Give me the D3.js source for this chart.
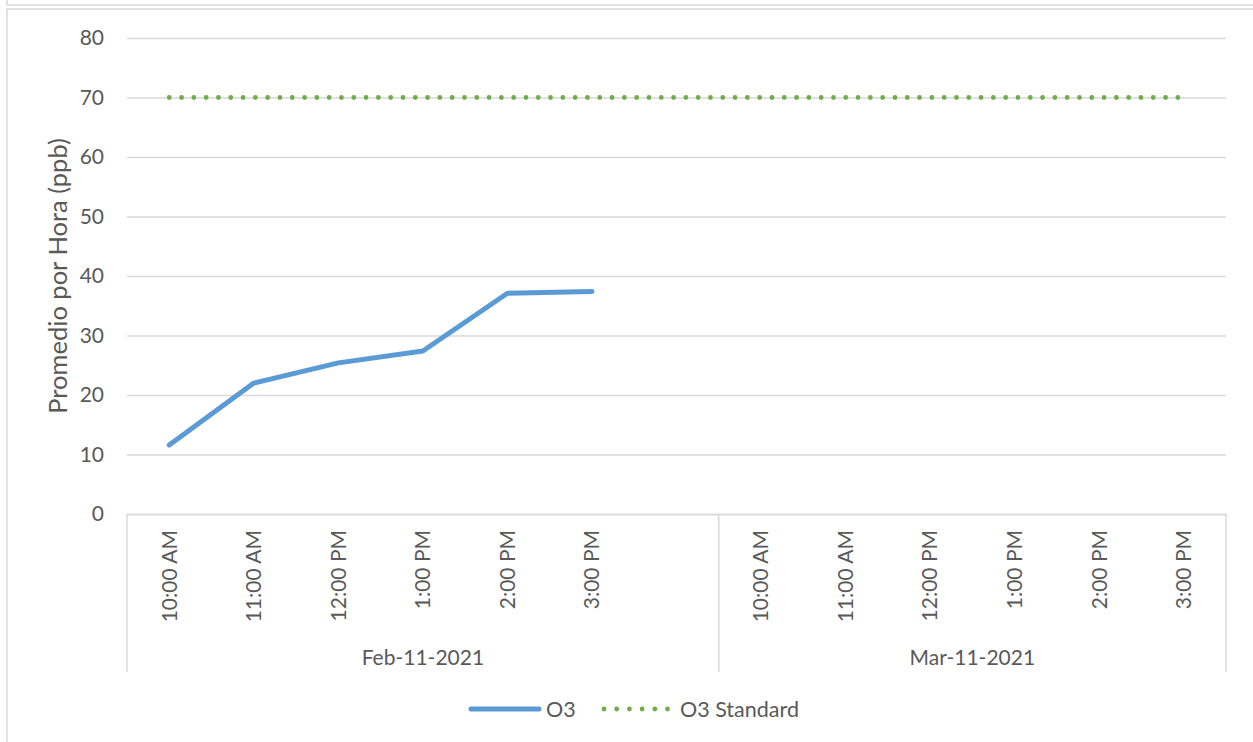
<!DOCTYPE html>
<html>
<head>
<meta charset="utf-8">
<script src="https://cdn.jsdelivr.net/npm/d3@7"></script>
<style>
  body { margin: 0; background: #fff; }
  text { font-family: Lato, "Open Sans", sans-serif; fill: #595959; }
</style>
</head>
<body>
<div id="chart"></div>
<script>
// Data
const dates = ["Feb-11-2021", "Mar-11-2021"];
const febTimes = ["10:00 AM", "11:00 AM", "12:00 PM", "1:00 PM", "2:00 PM", "3:00 PM", ""];
const marTimes = ["10:00 AM", "11:00 AM", "12:00 PM", "1:00 PM", "2:00 PM", "3:00 PM"];
const o3Values = [11.6, 22.0, 25.4, 27.4, 37.1, 37.4];   // Feb-11 only
const o3StandardValue = 70;
const yTicks = [0, 10, 20, 30, 40, 50, 60, 70, 80];
const seriesNames = ["O3", "O3 Standard"];

// Canvas / plot area
const W = 1253, H = 742;
const plot = { left: 127, right: 1226, top: 38, bottom: 514 };
const blue = "#5b9bd5", green = "#70ad47", grid = "#d9d9d9";
const labelSize = "21px";

const svg = d3.select("#chart").append("svg")
    .attr("width", W)
    .attr("height", H);

// outer frames (previous chart edge + this chart's border)
svg.append("path")
    .attr("d", "M7,0 V5 H" + W)
    .attr("fill", "none").attr("stroke", grid).attr("stroke-width", 1.5);
svg.append("rect")
    .attr("x", 7).attr("y", 9).attr("width", W + 10).attr("height", H + 10)
    .attr("fill", "none").attr("stroke", grid).attr("stroke-width", 1.5);

// build category list: one key per slot
const groups = [
    { date: dates[0], times: febTimes },
    { date: dates[1], times: marTimes }
];
const cats = [];
groups.forEach(g => g.times.forEach((t, i) => cats.push({ key: g.date + "|" + i, date: g.date, time: t })));

const x = d3.scaleBand()
    .domain(cats.map(d => d.key))
    .range([plot.left, plot.right]);
const cx = k => x(k) + x.bandwidth() / 2;

const y = d3.scaleLinear()
    .domain([0, 80])
    .range([plot.bottom, plot.top]);

// gridlines
svg.append("g")
    .attr("transform", "translate(" + plot.left + ",0)")
    .call(d3.axisLeft(y).tickValues(yTicks).tickSize(-(plot.right - plot.left)).tickFormat(""))
    .call(g => g.select(".domain").remove())
    .call(g => g.selectAll("line").attr("stroke", grid).attr("stroke-width", 1.5));

// y axis labels
svg.append("g")
    .attr("transform", "translate(" + plot.left + ",0)")
    .call(d3.axisLeft(y).tickValues(yTicks).tickSize(0).tickPadding(23))
    .call(g => g.select(".domain").remove())
    .call(g => g.selectAll("text")
        .attr("fill", "#595959")
        .style("font-size", labelSize)
        .style("font-family", "Lato, 'Open Sans', sans-serif"));

// y axis title
svg.append("text")
    .attr("transform", "translate(67," + (plot.top + plot.bottom) / 2 + ") rotate(-90)")
    .attr("text-anchor", "middle")
    .style("font-size", "25.5px")
    .text("Promedio por Hora (ppb)");

// x axis (time labels)
const timeOf = {};
cats.forEach(d => timeOf[d.key] = d.time);
svg.append("g")
    .attr("transform", "translate(0," + plot.bottom + ")")
    .call(d3.axisBottom(x).tickSize(0).tickSizeOuter(0).tickFormat(k => timeOf[k]))
    .call(g => g.select(".domain").attr("stroke", grid).attr("stroke-width", 1.5))
    .call(g => g.selectAll("text")
        .attr("transform", "rotate(-90)")
        .attr("x", -16)
        .attr("y", 0)
        .attr("dy", "0.35em")
        .attr("text-anchor", "end")
        .attr("fill", "#595959")
        .style("font-size", labelSize)
        .style("font-family", "Lato, 'Open Sans', sans-serif"));

// group separators and date labels
const bounds = [];
groups.forEach(g => {
    const keys = cats.filter(d => d.date === g.date).map(d => d.key);
    bounds.push({ date: g.date, x0: x(keys[0]), x1: x(keys[keys.length - 1]) + x.bandwidth() });
});
const sepX = [bounds[0].x0].concat(bounds.map(b => b.x1));
svg.selectAll(".sep")
    .data(sepX)
    .enter().append("line")
    .attr("class", "sep")
    .attr("x1", d => d).attr("x2", d => d)
    .attr("y1", plot.bottom).attr("y2", 672)
    .attr("stroke", grid).attr("stroke-width", 1.5);
svg.selectAll(".grp")
    .data(bounds)
    .enter().append("text")
    .attr("class", "grp")
    .attr("x", d => (d.x0 + d.x1) / 2)
    .attr("y", 665)
    .attr("text-anchor", "middle")
    .style("font-size", labelSize)
    .text(d => d.date);

// O3 standard dotted line (all slots)
const line = d3.line().x(d => cx(d.key)).y(d => y(d.v));
svg.append("path")
    .datum(cats.map(d => ({ key: d.key, v: o3StandardValue })))
    .attr("d", line)
    .attr("fill", "none")
    .attr("stroke", green)
    .attr("stroke-width", 4.8)
    .attr("stroke-linecap", "round")
    .attr("stroke-dasharray", "0 12.3");

// O3 line
svg.append("path")
    .datum(o3Values.map((v, i) => ({ key: cats[i].key, v: v })))
    .attr("d", line)
    .attr("fill", "none")
    .attr("stroke", blue)
    .attr("stroke-width", 5)
    .attr("stroke-linecap", "round")
    .attr("stroke-linejoin", "round");

// legend
const legY = 709;
const leg = svg.append("g");
leg.append("line")
    .attr("x1", 471).attr("x2", 539).attr("y1", legY).attr("y2", legY)
    .attr("stroke", blue).attr("stroke-width", 5).attr("stroke-linecap", "round");
leg.append("text")
    .attr("x", 546).attr("y", legY).attr("dy", "0.35em")
    .style("font-size", "21.5px")
    .text(seriesNames[0]);
leg.append("line")
    .attr("x1", 604).attr("x2", 668).attr("y1", legY).attr("y2", legY)
    .attr("stroke", green).attr("stroke-width", 4.8).attr("stroke-linecap", "round")
    .attr("stroke-dasharray", "0 12.7");
leg.append("text")
    .attr("x", 680).attr("y", legY).attr("dy", "0.35em")
    .style("font-size", "21.5px")
    .text(seriesNames[1]);
</script>
</body>
</html>
